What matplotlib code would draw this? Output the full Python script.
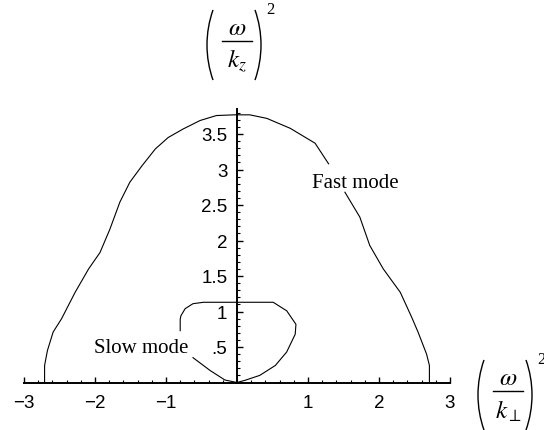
import numpy as np
import matplotlib.pyplot as plt
from matplotlib.ticker import FixedLocator
from matplotlib.patches import Arc
from matplotlib.lines import Line2D
from matplotlib.transforms import Affine2D

plt.rcParams['mathtext.fontset'] = 'stix'

# fast mode curve, split where the label sits
fast_a_x = [-2.71, -2.71, -2.67, -2.59, -2.47, -2.28, -2.09, -1.93, -1.79, -1.65, -1.51,
            -1.34, -1.15, -0.97, -0.76, -0.52, -0.29, -0.04, 0.18, 0.42, 0.75, 1.10, 1.29]
fast_a_y = [0.0, 0.24, 0.45, 0.71, 0.90, 1.27, 1.60, 1.83, 2.16, 2.54, 2.82,
            3.05, 3.29, 3.45, 3.57, 3.69, 3.76, 3.77, 3.77, 3.72, 3.58, 3.37, 3.08]
fast_b_x = [1.52, 1.73, 1.87, 2.06, 2.30, 2.46, 2.55, 2.67, 2.71, 2.71]
fast_b_y = [2.68, 2.33, 1.93, 1.60, 1.27, 0.92, 0.71, 0.40, 0.24, 0.0]

# slow mode loop, open on the left for its label
slow_x = [-0.80, -0.80, -0.79, -0.73, -0.62, -0.47, 0.51, 0.70, 0.83, 0.82, 0.70,
          0.54, 0.32, 0.11, 0.0, -0.17, -0.38, -0.62]
slow_y = [0.73, 0.89, 0.94, 1.04, 1.11, 1.13, 1.13, 1.01, 0.82, 0.68, 0.43,
          0.24, 0.10, 0.03, 0.0, 0.035, 0.17, 0.35]

x_ticks = [-3, -2, -1, 1, 2, 3]
x_tick_labels = ['\u22123', '\u22122', '\u22121', '1', '2', '3']
y_ticks = [0.5, 1, 1.5, 2, 2.5, 3, 3.5]
y_tick_labels = ['.5', '1', '1.5', '2', '2.5', '3', '3.5']

W, H = 544, 431
fig = plt.figure(figsize=(W / 100, H / 100), dpi=100)
ax = fig.add_axes([0, 0, 1, 1])
ax.set_xlim(-237 / 71, 307 / 71)
ax.set_ylim(-47.5 / 71, 383.5 / 71)
ax.patch.set_visible(False)

lw = 0.8
ax.plot(fast_a_x, fast_a_y, color='black', lw=lw)
ax.plot(fast_b_x, fast_b_y, color='black', lw=lw)
ax.plot(slow_x, slow_y, color='black', lw=lw)

# axes through the origin
for s in ['top', 'right']:
    ax.spines[s].set_visible(False)
ax.spines['left'].set_position(('data', 0))
ax.spines['bottom'].set_position(('data', 0))
ax.spines['left'].set_bounds(0, 3.85)
ax.spines['bottom'].set_bounds(-3, 3)
ax.spines['left'].set_linewidth(1.4)
ax.spines['bottom'].set_linewidth(1.4)

ax.xaxis.set_major_locator(FixedLocator(x_ticks))
ax.xaxis.set_minor_locator(FixedLocator(np.round(np.arange(-3, 3.01, 0.2), 2)))
ax.set_xticklabels(x_tick_labels)
ax.yaxis.set_major_locator(FixedLocator(y_ticks))
ax.yaxis.set_minor_locator(FixedLocator(np.round(np.arange(0.1, 3.81, 0.1), 2)))
ax.set_yticklabels(y_tick_labels)

ax.tick_params(which='major', direction='in', length=4.5, width=1.0,
               labelsize=13.5, labelfontfamily='Liberation Sans')
ax.tick_params(which='minor', direction='in', length=2.2, width=0.8)
ax.tick_params(axis='x', which='major', pad=8)
ax.tick_params(axis='y', which='major', pad=7)

ax.text(1.06, 2.76, 'Fast mode', fontsize=15, family='Liberation Serif')
ax.text(-2.01, 0.425, 'Slow mode', fontsize=15, family='Liberation Serif')

# axis labels drawn Mathematica-style: tall thin brackets around a fraction
px = Affine2D().scale(1 / W, -1 / H).translate(0, 1) + fig.transFigure


def frac_label(cx, cy, denom, sup_x):
    fig.text(cx, cy - 14, r'$\omega$', fontsize=18, ha='center', va='center', transform=px)
    fig.text(cx, cy + 19, denom, fontsize=18, ha='center', va='center', transform=px)
    fig.add_artist(Line2D([cx - 15, cx + 15], [cy, cy], color='black', lw=1.0, transform=px))
    r, half = 105, 19.5
    fig.add_artist(Arc((cx - 30 + r, cy + 4), 2 * r, 2 * r, theta1=180 - half,
                       theta2=180 + half, color='black', lw=1.0, transform=px))
    fig.add_artist(Arc((cx + 24 - r, cy + 4), 2 * r, 2 * r, theta1=-half,
                       theta2=half, color='black', lw=1.0, transform=px))
    fig.text(sup_x, cy - 32, '2', fontsize=12, family='Liberation Serif',
             ha='left', va='center', transform=px)


frac_label(237, 42, r'$k_z$', 266)
frac_label(508, 392, r'$k_\perp$', 537)

fig.savefig('out.png', dpi=100)
